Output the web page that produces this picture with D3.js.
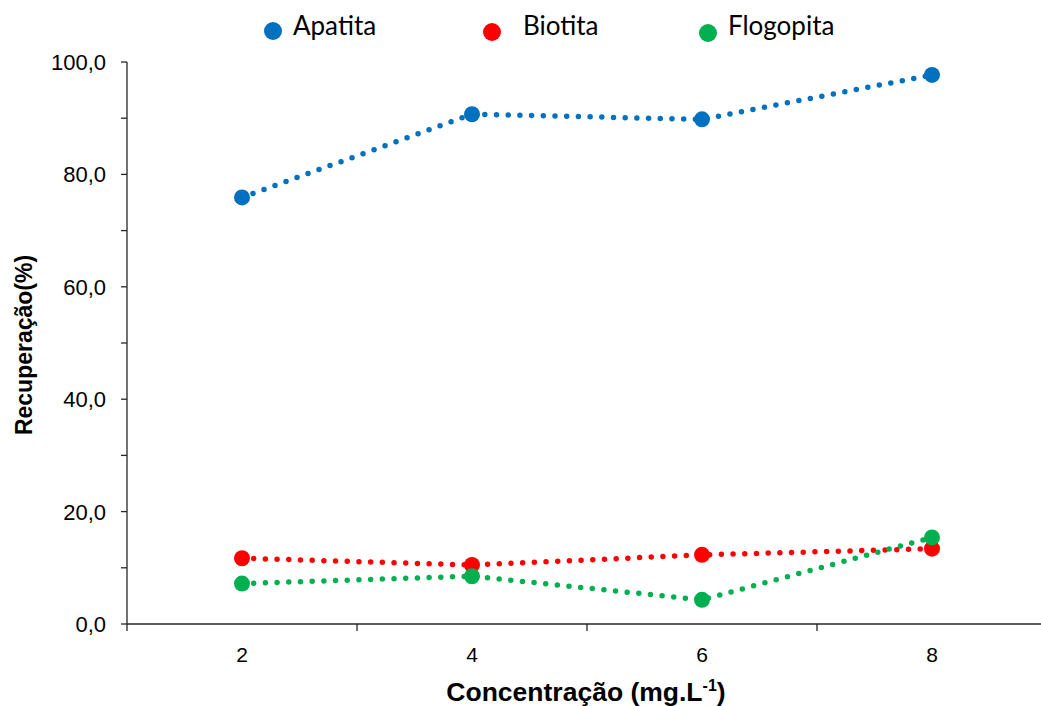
<!DOCTYPE html>
<html>
<head>
<meta charset="utf-8">
<script src="https://cdn.jsdelivr.net/npm/d3@7"></script>
<style>
  html, body { margin: 0; padding: 0; background: #fff; }
  svg { display: block; }
</style>
</head>
<body>
<svg id="chart" width="1041" height="706"></svg>
<script>
// Concentrations (mg.L-1) on the x axis
const concentrations = [2, 4, 6, 8];

// Recovery (%) per mineral
const apatita   = [75.9, 90.7, 89.8, 97.7];
const biotita   = [11.7, 10.5, 12.3, 13.4];
const flogopita = [7.2, 8.5, 4.3, 15.4];

const seriesNames  = ["Apatita", "Biotita", "Flogopita"];
const seriesColors = ["#0070C0", "#FF0000", "#00B050"];

const xLabelTicks = [2, 4, 6, 8];
const xMarkTicks  = [1, 3, 5, 7, 9];
const yLabelTicks = [0, 20, 40, 60, 80, 100];
const yMarkTicks  = [0, 10, 20, 30, 40, 50, 60, 70, 80, 90, 100];

const series = [apatita, biotita, flogopita].map((vals, i) => ({
  name: seriesNames[i],
  color: seriesColors[i],
  points: concentrations.map((c, j) => ({ x: c, y: vals[j] }))
}));

const svg = d3.select("#chart");
const axisColor = "#262626";
const tickFont = "'Liberation Sans', Arial, sans-serif";

const x = d3.scaleLinear().domain([1, 9]).range([127, 1047]);
const y = d3.scaleLinear().domain([0, 100]).range([624, 62]);
const fmt = v => d3.format(".1f")(v).replace(".", ",");

// Y axis: tick marks every 10, labels every 20
const yAxisG = svg.append("g").attr("transform", `translate(${x(1)},0)`);
yAxisG.append("line")
  .attr("x1", 0).attr("x2", 0).attr("y1", y(100)).attr("y2", y(0))
  .attr("stroke", axisColor).attr("stroke-width", 1.3);
yAxisG.selectAll("line.tick").data(yMarkTicks).join("line")
  .attr("class", "tick")
  .attr("x1", -6).attr("x2", 0)
  .attr("y1", d => y(d)).attr("y2", d => y(d))
  .attr("stroke", axisColor).attr("stroke-width", 1.3);
yAxisG.selectAll("text").data(yLabelTicks).join("text")
  .attr("x", -21).attr("y", d => y(d))
  .attr("dy", "0.36em")
  .attr("text-anchor", "end")
  .attr("font-family", tickFont).attr("font-size", 22)
  .attr("fill", "#000")
  .text(fmt);

// X axis: tick marks at odd values, labels at the concentrations
const xAxisG = svg.append("g").attr("transform", `translate(0,${y(0)})`);
xAxisG.append("line")
  .attr("x1", x(1)).attr("x2", 1041).attr("y1", 0).attr("y2", 0)
  .attr("stroke", axisColor).attr("stroke-width", 1.3);
xAxisG.selectAll("line.tick").data(xMarkTicks).join("line")
  .attr("class", "tick")
  .attr("x1", d => x(d)).attr("x2", d => x(d))
  .attr("y1", 0).attr("y2", 7)
  .attr("stroke", axisColor).attr("stroke-width", 1.3);
xAxisG.selectAll("text").data(xLabelTicks).join("text")
  .attr("x", d => x(d)).attr("y", 38)
  .attr("text-anchor", "middle")
  .attr("font-family", tickFont).attr("font-size", 21)
  .attr("fill", "#000")
  .text(d => d);

// Axis titles
svg.append("text")
  .attr("transform", "translate(32,345) rotate(-90)")
  .attr("text-anchor", "middle")
  .attr("font-family", tickFont).attr("font-size", 23).attr("font-weight", "bold")
  .text("Recuperação(%)");

const xt = svg.append("text")
  .attr("x", 586).attr("y", 701)
  .attr("text-anchor", "middle")
  .attr("font-family", tickFont).attr("font-size", 26.5).attr("font-weight", "bold");
xt.append("tspan").text("Concentração (mg.L");
xt.append("tspan").attr("font-size", 16).attr("dy", -10).text("-1");
xt.append("tspan").attr("dy", 10).text(")");

// Dotted connecting lines
const line = d3.line().x(d => x(d.x)).y(d => y(d.y));
const plot = svg.append("g");
plot.selectAll("path.series").data(series).join("path")
  .attr("class", "series")
  .attr("d", d => line(d.points))
  .attr("fill", "none")
  .attr("stroke", d => d.color)
  .attr("stroke-width", 5.5)
  .attr("stroke-linecap", "round")
  .attr("stroke-dasharray", "0 11.7");

// Markers
plot.selectAll("g.markers").data(series).join("g")
  .attr("class", "markers")
  .attr("fill", d => d.color)
  .selectAll("circle").data(d => d.points).join("circle")
  .attr("cx", d => x(d.x)).attr("cy", d => y(d.y)).attr("r", 8);

// Legend
const legendPos = [
  { mx: 273, my: 31, tx: 293 },
  { mx: 492, my: 32, tx: 523 },
  { mx: 708, my: 33, tx: 728 }
];
const legend = svg.append("g").selectAll("g").data(series).join("g");
legend.append("circle")
  .attr("cx", (d, i) => legendPos[i].mx).attr("cy", (d, i) => legendPos[i].my)
  .attr("r", 9).attr("fill", d => d.color);
legend.append("text")
  .attr("x", (d, i) => legendPos[i].tx).attr("y", 35)
  .attr("font-family", "Lato, 'Open Sans', sans-serif").attr("font-size", 26)
  .attr("fill", "#000")
  .text(d => d.name);
</script>
</body>
</html>
